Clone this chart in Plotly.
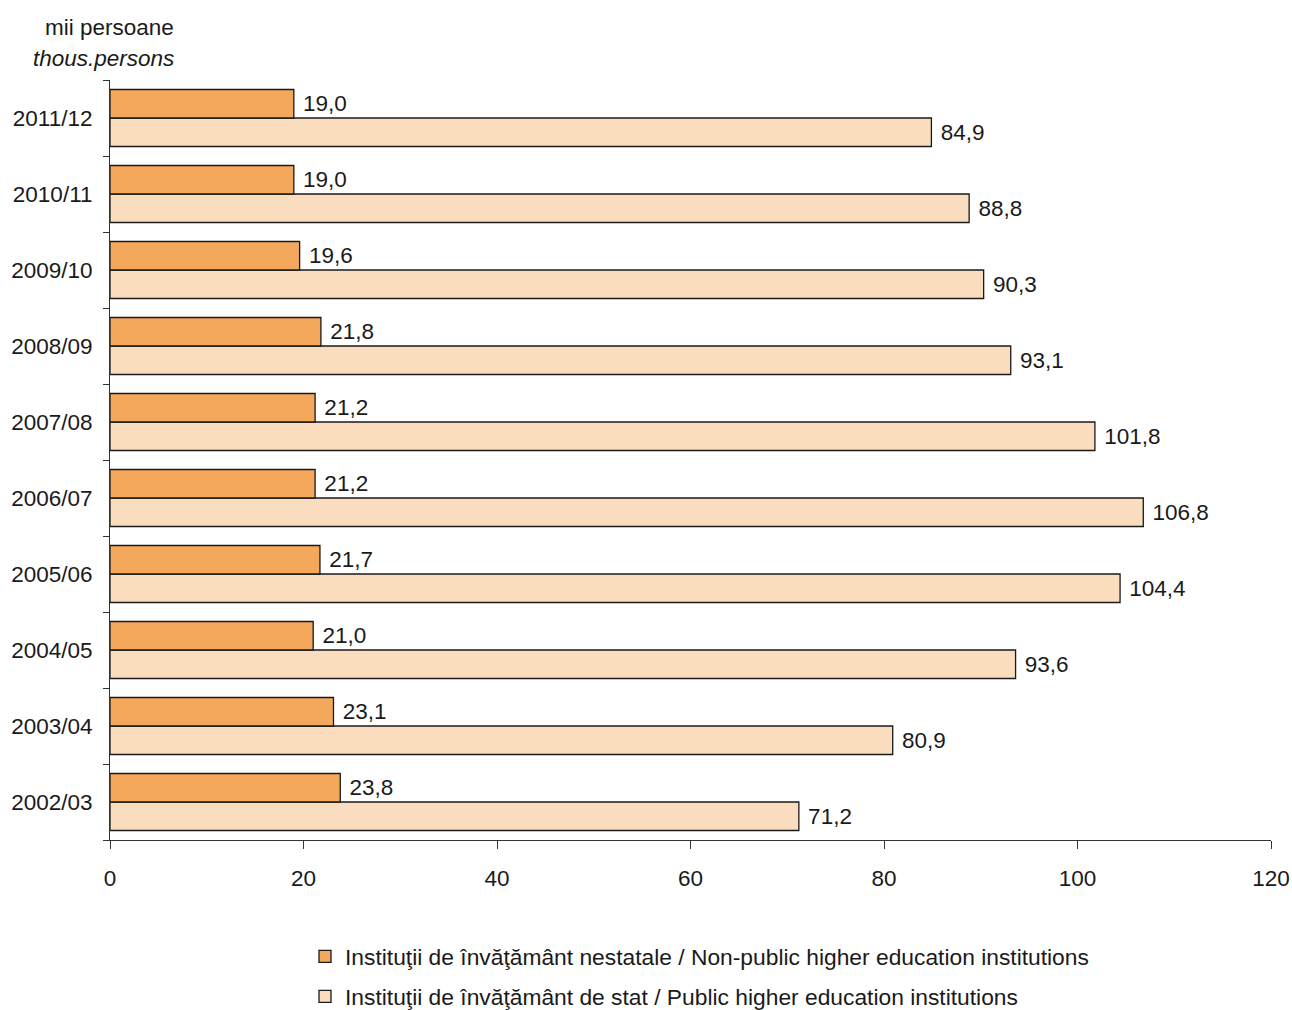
import plotly.graph_objects as go

years = ["2002/03", "2003/04", "2004/05", "2005/06", "2006/07",
         "2007/08", "2008/09", "2009/10", "2010/11", "2011/12"]
non_public = [23.8, 23.1, 21.0, 21.7, 21.2, 21.2, 21.8, 19.6, 19.0, 19.0]
public = [71.2, 80.9, 93.6, 104.4, 106.8, 101.8, 93.1, 90.3, 88.8, 84.9]

name_np = "Instituţii de învăţământ nestatale / Non-public higher education institutions"
name_p = "Instituţii de învăţământ de stat / Public higher education institutions"

FONT = "Liberation Sans, Arial, sans-serif"
FS = 22.5
FS_LEG = 22.8

W, H = 1292, 1010
ML, MT, MR, MB = 110, 80, 21, 170

fig = go.Figure()
fig.add_trace(go.Bar(
    y=years, x=public, orientation="h", name=name_p,
    marker=dict(color="#FADDBE", line=dict(color="#1a1a1a", width=1.3)),
    texttemplate=" %{x:.1f}", textposition="outside", cliponaxis=False,
    textfont=dict(size=FS, color="#1a1a1a", family=FONT),
    legend="legend2",
))
fig.add_trace(go.Bar(
    y=years, x=non_public, orientation="h", name=name_np,
    marker=dict(color="#F3A85B", line=dict(color="#1a1a1a", width=1.3)),
    texttemplate=" %{x:.1f}", textposition="outside", cliponaxis=False,
    textfont=dict(size=FS, color="#1a1a1a", family=FONT),
    legend="legend",
))

plot_w = W - ML - MR
plot_h = H - MT - MB
# helpers: convert page pixel coordinates to paper coordinates
def px_x(px):
    return (px - ML) / plot_w
def px_y(py):
    return (H - MB - py) / plot_h

fig.update_layout(
    width=W, height=H,
    margin=dict(l=ML, r=MR, t=MT, b=MB, autoexpand=False),
    barmode="group", bargap=0.25, bargroupgap=0,
    separators=",.",
    plot_bgcolor="white", paper_bgcolor="white",
    font=dict(family=FONT, size=FS, color="#1a1a1a"),
    showlegend=True,
    legend=dict(x=px_x(305), y=px_y(935), xanchor="left", yanchor="top",
                font=dict(size=FS_LEG, family=FONT), bgcolor="rgba(0,0,0,0)",
                itemwidth=30),
    legend2=dict(x=px_x(305), y=px_y(975), xanchor="left", yanchor="top",
                 font=dict(size=FS_LEG, family=FONT), bgcolor="rgba(0,0,0,0)",
                 itemwidth=30),
    xaxis=dict(range=[0, 120], tickvals=[0, 20, 40, 60, 80, 100, 120],
               showgrid=False, zeroline=False, showline=True, automargin=False,
               linecolor="#333", linewidth=1, ticks="outside", ticklen=8,
               tickcolor="#333", tickfont=dict(size=FS), ticklabelstandoff=10),
    yaxis=dict(categoryorder="array", categoryarray=years, automargin=False,
               showgrid=False, showline=True, linecolor="#333", linewidth=1,
               ticks="outside", ticklen=6, tickcolor="#333",
               tickson="boundaries", tickfont=dict(size=FS),
               ticklabelstandoff=12),
    annotations=[
        dict(text="mii persoane", xref="paper", yref="paper",
             x=px_x(176), y=px_y(27), xanchor="right", yanchor="middle",
             showarrow=False, font=dict(size=FS)),
        dict(text="<i>thous.persons</i>", xref="paper", yref="paper",
             x=px_x(176), y=px_y(58), xanchor="right", yanchor="middle",
             showarrow=False, font=dict(size=FS)),
    ],
)

fig.write_html(
    "out.html",
    config={"displayModeBar": False},
    post_script="document.body.style.margin='0px';document.body.style.overflow='hidden';",
)
